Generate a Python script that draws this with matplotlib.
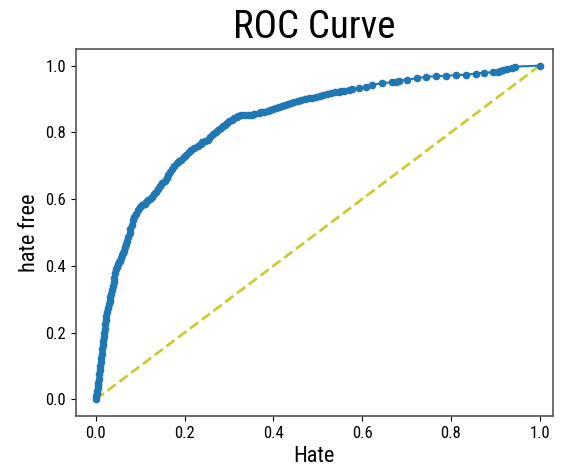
import matplotlib.pyplot as plt

# ROC points: (false positive rate, true positive rate)
roc_points = [
    (0.0, 0.0), (0.001, 0.010), (0.002, 0.020), (0.003, 0.026), (0.0045, 0.033),
    (0.005, 0.042), (0.006, 0.050), (0.007, 0.062), (0.008, 0.075), (0.009, 0.088),
    (0.010, 0.100), (0.011, 0.112), (0.012, 0.124), (0.013, 0.137), (0.015, 0.150),
    (0.016, 0.162), (0.017, 0.175), (0.018, 0.188), (0.019, 0.200), (0.020, 0.212),
    (0.021, 0.225), (0.022, 0.238), (0.023, 0.250), (0.025, 0.262), (0.027, 0.274),
    (0.029, 0.285), (0.031, 0.295), (0.033, 0.306), (0.034, 0.316), (0.036, 0.328),
    (0.038, 0.340), (0.040, 0.352), (0.042, 0.365), (0.044, 0.378), (0.046, 0.390),
    (0.048, 0.398), (0.050, 0.405), (0.052, 0.411), (0.054, 0.416), (0.057, 0.424),
    (0.059, 0.432), (0.061, 0.440), (0.063, 0.446), (0.065, 0.456), (0.068, 0.466),
    (0.070, 0.476), (0.073, 0.486), (0.076, 0.498), (0.078, 0.510), (0.081, 0.523),
    (0.084, 0.536), (0.087, 0.546), (0.091, 0.556), (0.095, 0.566), (0.100, 0.576),
    (0.104, 0.581), (0.110, 0.586), (0.114, 0.591), (0.118, 0.596), (0.122, 0.600),
    (0.126, 0.605), (0.131, 0.614), (0.135, 0.622), (0.140, 0.631), (0.145, 0.640),
    (0.150, 0.648), (0.155, 0.655), (0.160, 0.664), (0.163, 0.672), (0.168, 0.681),
    (0.172, 0.690), (0.177, 0.698), (0.182, 0.707), (0.187, 0.713), (0.192, 0.718),
    (0.198, 0.726), (0.203, 0.733), (0.209, 0.740), (0.215, 0.747), (0.222, 0.754),
    (0.231, 0.760), (0.236, 0.765), (0.240, 0.770), (0.246, 0.774), (0.252, 0.777),
    (0.258, 0.786), (0.264, 0.795), (0.270, 0.801), (0.276, 0.807), (0.282, 0.813),
    (0.287, 0.818), (0.291, 0.823), (0.296, 0.828), (0.300, 0.833), (0.306, 0.838),
    (0.312, 0.842), (0.318, 0.846), (0.321, 0.849), (0.328, 0.852), (0.336, 0.852),
    (0.345, 0.852), (0.351, 0.853), (0.357, 0.855), (0.367, 0.858), (0.373, 0.860),
    (0.380, 0.862), (0.387, 0.864), (0.393, 0.867), (0.399, 0.870), (0.405, 0.874),
    (0.412, 0.877), (0.419, 0.880), (0.426, 0.883), (0.433, 0.886), (0.440, 0.889),
    (0.447, 0.892), (0.455, 0.894), (0.462, 0.897), (0.471, 0.899), (0.480, 0.902),
    (0.488, 0.904), (0.497, 0.907), (0.505, 0.910), (0.512, 0.913), (0.521, 0.916),
    (0.530, 0.918), (0.538, 0.920), (0.547, 0.922), (0.553, 0.924), (0.560, 0.925),
    (0.570, 0.927), (0.578, 0.930), (0.593, 0.932), (0.608, 0.936), (0.622, 0.942),
    (0.645, 0.948), (0.668, 0.950), (0.676, 0.952), (0.683, 0.955), (0.700, 0.958),
    (0.724, 0.962), (0.745, 0.967), (0.767, 0.968), (0.790, 0.970), (0.812, 0.971),
    (0.833, 0.973), (0.857, 0.976), (0.875, 0.979), (0.894, 0.980), (0.905, 0.982),
    (0.911, 0.985), (0.918, 0.988), (0.927, 0.990), (0.937, 0.993), (0.945, 0.997),
    (1.0, 1.0),
]
fpr = [p[0] for p in roc_points]
tpr = [p[1] for p in roc_points]
diag = [0, 1]

plt.rcParams["font.family"] = ["Roboto Condensed", "DejaVu Sans"]

fig = plt.figure(figsize=(5.66, 4.75), dpi=100)
ax = fig.add_axes([0.134, 0.124, 0.843, 0.773])

ax.plot(diag, diag, linestyle="--", color="y", alpha=0.8, linewidth=2)
ax.plot(fpr, tpr, marker=".", color="C0", markersize=9)

ax.set_xlim(-0.045, 1.03)
ax.set_ylim(-0.05, 1.05)
ax.set_xticks([0.0, 0.2, 0.4, 0.6, 0.8, 1.0])
ax.set_yticks([0.0, 0.2, 0.4, 0.6, 0.8, 1.0])
ax.tick_params(labelsize=12)
for s in ax.spines.values():
    s.set_color("#555555")
    s.set_linewidth(1.2)

ax.set_title("ROC Curve", fontsize=28, pad=8, fontweight="normal")
ax.set_xlabel("Hate", fontsize=16)
ax.set_ylabel("hate free", fontsize=16)

fig.savefig("out.png", dpi=100)
